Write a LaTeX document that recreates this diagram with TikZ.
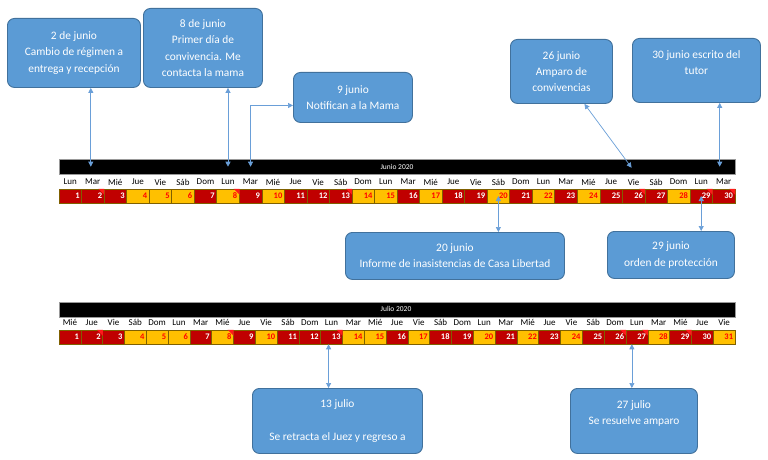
\documentclass[tikz,border=0pt]{standalone}
\usepackage{fontspec}
\setmainfont{Carlito}
\usetikzlibrary{arrows.meta}
\definecolor{boxfill}{HTML}{5B9BD5}
\definecolor{boxline}{HTML}{41719C}
\definecolor{cellred}{HTML}{C00000}
\definecolor{cellyel}{HTML}{FFC000}
\definecolor{numred}{HTML}{FF0000}
\definecolor{cellline}{HTML}{7F6000}
\definecolor{arrowc}{HTML}{6A9FD8}
\definecolor{markred}{HTML}{FF1A1A}
\begin{document}
\begin{tikzpicture}[x=1pt,y=-1pt,
  event/.style={draw=boxline, line width=0.9pt, fill=boxfill, rounded corners=7pt, text=white,
    font=\fontsize{11.4}{16.3}\selectfont, align=center, inner sep=0pt, anchor=north west},
  cellbox/.style={draw=cellline, line width=0.5pt, minimum height=14pt, inner sep=0pt,
    font=\fontsize{8.5}{9}\selectfont\bfseries, align=right},
  rc/.style={fill=cellred, text=white},
  yc/.style={fill=cellyel, text=numred},
  dayname/.style={font=\fontsize{9}{10}\selectfont, inner sep=0pt, text=black},
  barbox/.style={fill=black, draw=black!40, line width=0.4pt, minimum width=676pt, minimum height=15pt, inner sep=0pt, anchor=north west},
  barlabel/.style={text=white, font=\fontsize{7.5}{8}\selectfont, inner sep=0pt},
  conn/.style={draw=arrowc, line width=0.7pt, {Triangle[length=5pt,width=5pt]}-{Triangle[length=5pt,width=5pt]}},
  cornermark/.style={fill=markred}
]
\useasboundingbox[fill=white] (0,0) rectangle (768,460);

% ---------------- June ----------------
\node[barbox] (jbar) at (59,159) {};
\node[barlabel] (jbarlabel) at (397,166.5) {Junio 2020};
\foreach \n [count=\i] in {Lun,Mar,Mié,Jue,Vie,Sáb,Dom,Lun,Mar,Mié,Jue,Vie,Sáb,Dom,Lun,Mar,Mié,Jue,Vie,Sáb,Dom,Lun,Mar,Mié,Jue,Vie,Sáb,Dom,Lun,Mar}
  \node[dayname] (jd\i) at ({59+(\i-0.5)*22.533},182) {\n};
\foreach \d/\s in {1/rc,2/rc,3/rc,4/yc,5/yc,6/yc,7/rc,8/yc,9/rc,10/yc,11/rc,12/rc,13/rc,14/yc,15/yc,16/rc,17/yc,18/rc,19/rc,20/yc,21/rc,22/yc,23/rc,24/yc,25/rc,26/rc,27/rc,28/yc,29/rc,30/rc}
  \node[cellbox,\s,minimum width=22.533pt,text width=18.6pt] (j\d) at ({59+(\d-0.5)*22.533},196) {\d};
\foreach \d in {2,8,13,26,29,30}
  \fill[cornermark] (j\d.north east) -- ([xshift=-6pt]j\d.north east) -- ([yshift=-6pt]j\d.north east) -- cycle;

% ---------------- July ----------------
\node[barbox] (lbar) at (59,302) {};
\node[barlabel] (lbarlabel) at (396,309) {Julio 2020};
\foreach \n [count=\i] in {Mié,Jue,Vie,Sáb,Dom,Lun,Mar,Mié,Jue,Vie,Sáb,Dom,Lun,Mar,Mié,Jue,Vie,Sáb,Dom,Lun,Mar,Mié,Jue,Vie,Sáb,Dom,Lun,Mar,Mié,Jue,Vie}
  \node[dayname] (ld\i) at ({59+(\i-0.5)*21.806},322.5) {\n};
\foreach \d/\s in {1/rc,2/rc,3/rc,4/yc,5/yc,6/yc,7/rc,8/yc,9/rc,10/yc,11/rc,12/rc,13/rc,14/yc,15/yc,16/rc,17/yc,18/rc,19/rc,20/yc,21/rc,22/yc,23/rc,24/yc,25/rc,26/rc,27/rc,28/yc,29/rc,30/rc,31/yc}
  \node[cellbox,\s,minimum width=21.806pt,text width=18pt] (l\d) at ({59+(\d-0.5)*21.806},337) {\d};
\foreach \d in {2,8,13,26,27,29}
  \fill[cornermark] (l\d.north east) -- ([xshift=-6pt]l\d.north east) -- ([yshift=-6pt]l\d.north east) -- cycle;

% ---------------- Event boxes ----------------
\node[event, minimum width=133pt, minimum height=69pt] (b1) at (7,18) {2 de junio\\Cambio de régimen a\\entrega y recepción};
\node[event, minimum width=119pt, minimum height=79pt] (b2) at (143,8) {8 de junio\\Primer día de\\convivencia. Me\\contacta la mama};
\node[event, minimum width=119pt, minimum height=50pt] (b3) at (293,72) {9 junio\\Notifican a la Mama};
\node[event, minimum width=102pt, minimum height=64pt] (b4) at (510,39) {26 junio\\Amparo de\\convivencias};
\node[event, minimum width=128pt, minimum height=64pt] (b5) at (632,38) {30 junio escrito del\\tutor\\\mbox{}};
\node[event, minimum width=219pt, minimum height=47pt] (b6) at (345,232) {20 junio\\Informe de inasistencias de Casa Libertad};
\node[event, minimum width=127pt, minimum height=47pt] (b7) at (607,231) {29 junio\\orden de protección};
\node[event, minimum width=170pt, minimum height=65pt] (b8) at (252,388) {13 julio\\\mbox{}\\Se retracta el Juez y regreso a};
\node[event, minimum width=127pt, minimum height=65pt] (b9) at (570,388) {27 julio\\Se resuelve amparo\\\mbox{}};

% ---------------- Connectors ----------------
\draw[conn] ([xshift=-2pt]j2.center |- b1.south) -- ([xshift=-2pt]j2.center |- jbar.center);
\draw[conn] (j8.center |- b2.south) -- (j8.center |- jbar.center);
\draw[conn] (j9.center |- jbar.center) |- ([yshift=-8pt]b3.west);
\draw[conn] ([xshift=23pt]b4.south) -- ([xshift=-2pt,yshift=-1pt]j26.center |- jbar.center);
\draw[conn] ([xshift=-4pt]j30.center |- b5.south) -- ([xshift=-4pt]j30.center |- jbar.center);
\draw[conn] (j20.center) -- (j20.center |- b6.north);
\draw[conn] (j29.center) -- (j29.center |- b7.north);
\draw[conn] ([xshift=-3pt]l13.south) -- ([xshift=-3pt]l13.center |- b8.north);
\draw[conn] ([xshift=-5pt]l27.south) -- ([xshift=-5pt]l27.center |- b9.north);
\end{tikzpicture}
\end{document}
